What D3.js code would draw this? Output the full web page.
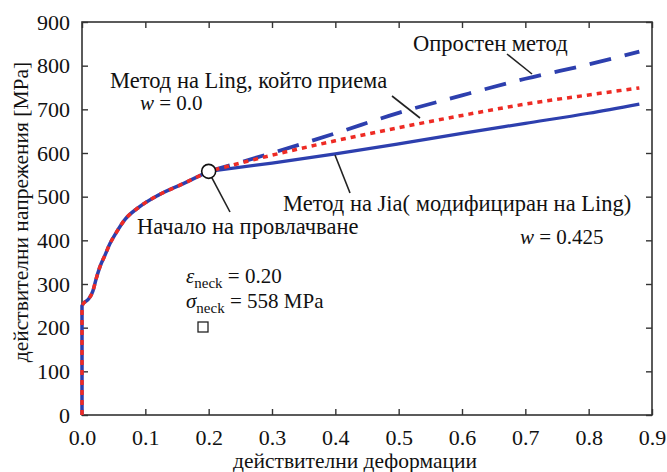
<!DOCTYPE html>
<html>
<head>
<meta charset="utf-8">
<script src="https://cdn.jsdelivr.net/npm/d3@7"></script>
<style>
  body { margin: 0; background: #fff; }
  text { font-family: "Liberation Serif", "Times New Roman", "DejaVu Serif", serif; fill: #111; }
</style>
</head>
<body>
<script>
// common part of the curve up to necking (strain, stress)
var preEps = [0, 0, 0.002, 0.01, 0.017, 0.022, 0.028, 0.036, 0.044, 0.055, 0.068, 0.09, 0.12, 0.16, 0.2];
var preSig = [0, 250, 255, 265, 283, 310, 338, 365, 392, 420, 448, 476, 503, 530, 558];

// after necking
var postEps = [0.2, 0.3, 0.4, 0.5, 0.6, 0.7, 0.8, 0.88];
var jiaSig = [558, 577, 598, 621, 645, 668, 691, 712];     // Jia, w = 0.425
var lingSig = [558, 595, 628, 658, 686, 712, 733, 749];    // Ling, w = 0.0
var simpleSig = [558, 600, 645, 692, 732, 770, 803, 832];  // simple method

var neck = {eps: 0.20, sig: 558};

var xTicks = [0, 0.1, 0.2, 0.3, 0.4, 0.5, 0.6, 0.7, 0.8, 0.9];
var yTicks = [0, 100, 200, 300, 400, 500, 600, 700, 800, 900];

var width = 667, height = 472;
var margin = {left: 82, right: 15, top: 22, bottom: 57};
var serif = '"Liberation Serif", "Times New Roman", serif';

var svg = d3.select("body").append("svg")
    .attr("width", width)
    .attr("height", height);

var x = d3.scaleLinear().domain([0, 0.9]).range([margin.left, width - margin.right]);
var y = d3.scaleLinear().domain([0, 900]).range([height - margin.bottom, margin.top]);

var blue = "#2d3fae", red = "#ee2b24";

// frame
svg.append("rect")
    .attr("x", x(0)).attr("y", y(900))
    .attr("width", x(0.9) - x(0)).attr("height", y(0) - y(900))
    .attr("fill", "none").attr("stroke", "#333").attr("stroke-width", 1.6);

// axes with inward ticks
var gx = svg.append("g").attr("transform", "translate(0," + y(0) + ")")
    .call(d3.axisBottom(x).tickValues(xTicks).tickSize(-6).tickPadding(14).tickFormat(d3.format(".1f")));
var gxt = svg.append("g").attr("transform", "translate(0," + y(900) + ")")
    .call(d3.axisTop(x).tickValues(xTicks).tickSize(-6).tickFormat(""));
var gy = svg.append("g").attr("transform", "translate(" + x(0) + ",0)")
    .call(d3.axisLeft(y).tickValues(yTicks).tickSize(-6).tickPadding(12));
var gyr = svg.append("g").attr("transform", "translate(" + x(0.9) + ",0)")
    .call(d3.axisRight(y).tickValues(yTicks).tickSize(-6).tickFormat(""));

[gx, gxt, gy, gyr].forEach(function (g) {
    g.attr("font-family", null);
    g.select(".domain").remove();
    g.selectAll("line").attr("stroke", "#333").attr("stroke-width", 1.4);
    g.selectAll("text").style("font-family", serif).style("font-size", "22px").attr("fill", "#333");
});

// axis labels
svg.append("text")
    .attr("x", 355).attr("y", 468)
    .attr("text-anchor", "middle").style("font-size", "21.5px")
    .text("действителни деформации");
svg.append("text")
    .attr("transform", "translate(28,212) rotate(-90)")
    .attr("text-anchor", "middle").style("font-size", "21.5px")
    .text("действителни напрежения [MPa]");

var line = d3.line().x(function (d) { return x(d[0]); }).y(function (d) { return y(d[1]); })
    .curve(d3.curveMonotoneX);

var pre = d3.zip(preEps, preSig);
var jia = d3.zip(postEps, jiaSig);
var ling = d3.zip(postEps, lingSig);
var simple = d3.zip(postEps, simpleSig);

// vertical elastic part, then smooth hardening curve
var preD = "M" + x(pre[0][0]) + "," + y(pre[0][1]) + line(pre.slice(1)).replace(/^M/, "L");

// common blue part + Jia solid
svg.append("path").attr("d", preD).attr("fill", "none")
    .attr("stroke", blue).attr("stroke-width", 3.5);
svg.append("path").attr("d", line(jia)).attr("fill", "none")
    .attr("stroke", blue).attr("stroke-width", 3.2);
// simple method dashed
svg.append("path").attr("d", line(simple)).attr("fill", "none")
    .attr("stroke", blue).attr("stroke-width", 3.8).attr("stroke-dasharray", "22,14");
// red dotted (Ling) over everything
svg.append("path").attr("d", preD + line(ling).replace(/^M/, "L")).attr("fill", "none")
    .attr("stroke", red).attr("stroke-width", 3.5).attr("stroke-dasharray", "5,5");

// leader lines
function leader(x1, y1, x2, y2) {
    svg.append("line").attr("x1", x1).attr("y1", y1).attr("x2", x2).attr("y2", y2)
        .attr("stroke", "#222").attr("stroke-width", 1.6);
}
leader(507, 54, 532, 74);
leader(392, 96, 420, 118);
leader(x(neck.eps) + 3, y(neck.sig) + 6, 230, 212);
leader(335, 155, 350, 193);

// neck marker
svg.append("circle").attr("cx", x(neck.eps)).attr("cy", y(neck.sig)).attr("r", 7)
    .attr("fill", "#fff").attr("stroke", "#111").attr("stroke-width", 1.6);

// annotations
function label(tx, ty, s) {
    return svg.append("text").attr("x", tx).attr("y", ty).style("font-size", "22.5px").text(s);
}
label(413, 51, "Опростен метод");
label(110, 88, "Метод на Ling, който приема");
label(283, 211, "Метод на Jia( модифициран на Ling)");
label(137, 234, "Начало на провлачване");

function wLabel(tx, ty, v) {
    var t = svg.append("text").attr("x", tx).attr("y", ty).style("font-size", "21px").attr("fill", "#333");
    t.append("tspan").style("font-style", "italic").text("w");
    t.append("tspan").text(" = " + v);
}
wLabel(140, 110, "0.0");
wLabel(520, 244, "0.425");

function neckLabel(ty, sym, rest) {
    var t = svg.append("text").attr("x", 186).attr("y", ty).style("font-size", "21px").attr("fill", "#333");
    t.append("tspan").style("font-style", "italic").text(sym);
    t.append("tspan").attr("dy", 5).style("font-size", "15px").text("neck");
    t.append("tspan").attr("dy", -5).text(" = " + rest);
}
neckLabel(283, "ε", "0.20");
neckLabel(308, "σ", neck.sig + " MPa");

svg.append("rect").attr("x", 198).attr("y", 322).attr("width", 10).attr("height", 10)
    .attr("fill", "#fff").attr("stroke", "#222").attr("stroke-width", 1.3);
</script>
</body>
</html>
